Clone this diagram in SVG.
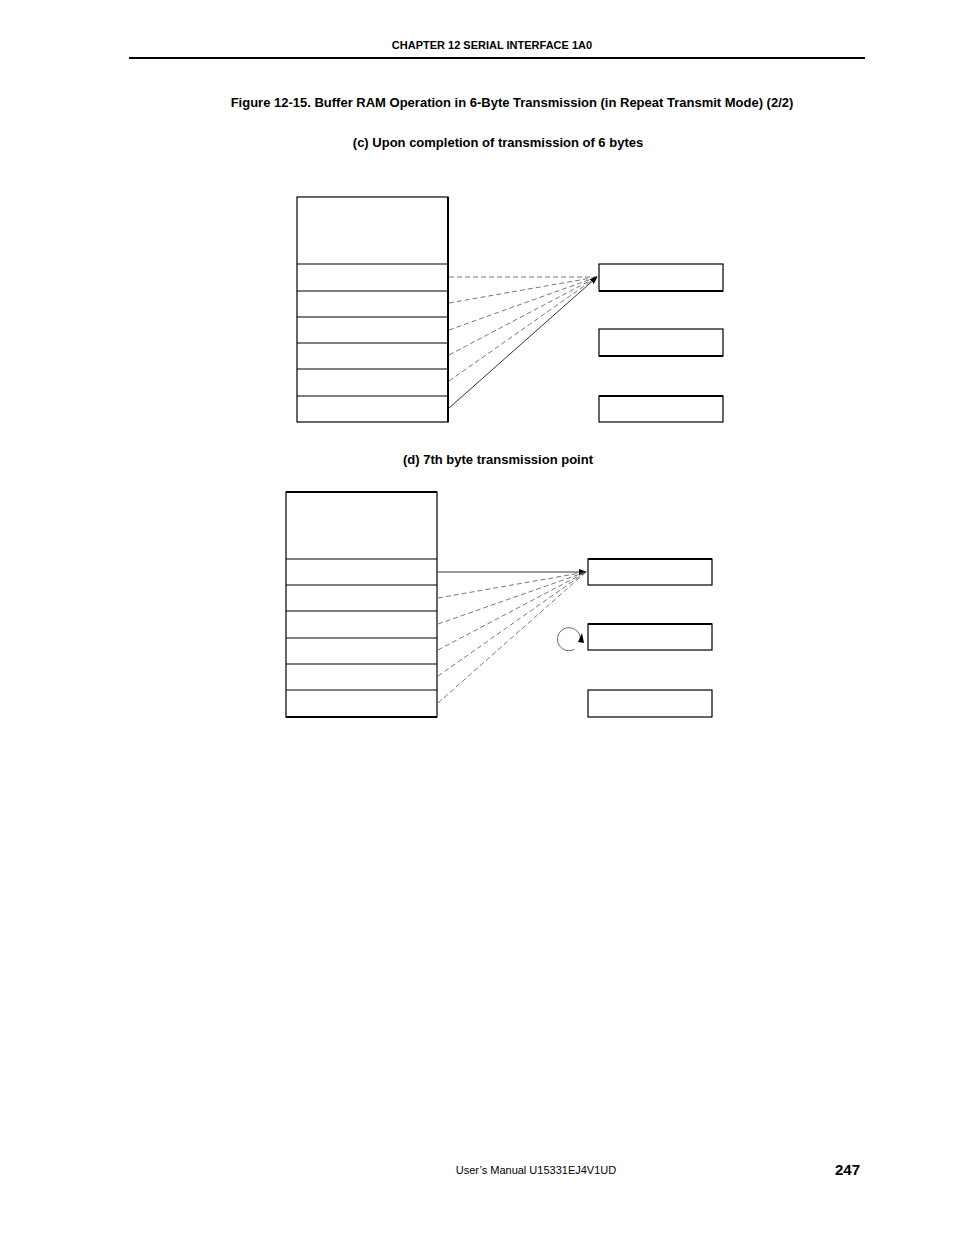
<svg xmlns="http://www.w3.org/2000/svg" width="954" height="1235" viewBox="0 0 954 1235">
<style>
.t{font-family:"Liberation Sans",Arial,sans-serif;font-weight:bold;fill:#000}
.b{fill:none;stroke:#000;stroke-width:1.2}
.d{fill:none;stroke:#555;stroke-width:0.8;stroke-dasharray:5,3}
.s{fill:none;stroke:#000;stroke-width:0.8}
</style>
<defs><marker id="a" markerWidth="8" markerHeight="6" refX="7" refY="3" orient="auto" markerUnits="userSpaceOnUse"><path d="M0,0L8,3L0,6z" fill="#000"/></marker></defs>
<rect width="954" height="1235" fill="#fff"/>
<text class="t" x="492" y="49" font-size="11" text-anchor="middle">CHAPTER  12   SERIAL  INTERFACE  1A0</text>
<line x1="129" y1="58" x2="865" y2="58" stroke="#000" stroke-width="2"/>
<text class="t" x="512" y="107" font-size="13" text-anchor="middle">Figure 12-15.  Buffer RAM Operation in 6-Byte Transmission (in Repeat Transmit Mode) (2/2)</text>
<text class="t" x="498" y="147" font-size="13" text-anchor="middle">(c)   Upon completion of transmission of 6 bytes</text>
<text class="t" x="498" y="464" font-size="13" text-anchor="middle">(d)   7th byte transmission point</text>
<g id="ramC">
<rect class="b" x="297" y="197" width="151" height="225"/>
<path class="b" d="M297 264H448M297 291H448M297 317H448M297 343H448M297 369H448M297 396H448"/>
<line x1="448" y1="197" x2="448" y2="422" stroke="#000" stroke-width="2"/>
</g>
<g id="regC1"><rect class="b" x="599" y="264" width="124" height="27"/><line x1="599" y1="291" x2="723" y2="291" stroke="#000" stroke-width="2"/></g>
<g id="regC2"><rect class="b" x="599" y="329" width="124" height="27"/><line x1="599" y1="356" x2="723" y2="356" stroke="#000" stroke-width="2"/></g>
<g id="regC3"><rect class="b" x="599" y="396" width="124" height="26"/><line x1="599" y1="396" x2="723" y2="396" stroke="#000" stroke-width="2"/></g>
<g id="ramD">
<rect class="b" x="286" y="492" width="151" height="225"/>
<path class="b" d="M286 559H437M286 585H437M286 611H437M286 638H437M286 664H437M286 690H437"/>
<line x1="286" y1="492" x2="437" y2="492" stroke="#000" stroke-width="2"/>
<line x1="286" y1="717" x2="437" y2="717" stroke="#000" stroke-width="2"/>
</g>
<g id="regD1"><rect class="b" x="588" y="559" width="124" height="26"/><line x1="588" y1="559" x2="712" y2="559" stroke="#000" stroke-width="2"/></g>
<g id="regD2"><rect class="b" x="588" y="624" width="124" height="26"/><line x1="588" y1="624" x2="712" y2="624" stroke="#000" stroke-width="2"/></g>
<g id="regD3"><rect class="b" x="588" y="690" width="124" height="27"/></g>
<g id="connectors">
<line class="d" x1="449" y1="277" x2="597" y2="277"/>
<line class="d" x1="449" y1="303" x2="597" y2="277"/>
<line class="d" x1="449" y1="330" x2="597" y2="277"/>
<line class="d" x1="449" y1="355" x2="597" y2="277"/>
<line class="d" x1="449" y1="381" x2="597" y2="277"/>
<line class="s" x1="449" y1="408" x2="597" y2="277" marker-end="url(#a)"/>
<line class="s" x1="438" y1="572" x2="586" y2="572" marker-end="url(#a)"/>
<line class="d" x1="438" y1="598" x2="586" y2="572"/>
<line class="d" x1="438" y1="624" x2="586" y2="572"/>
<line class="d" x1="438" y1="650" x2="586" y2="572"/>
<line class="d" x1="438" y1="676" x2="586" y2="572"/>
<line class="d" x1="438" y1="703" x2="586" y2="572"/>
<path d="M582 640A11.5 11.5 0 1 1 577 630" fill="none" stroke="#555" stroke-width="0.8" transform="rotate(60 570 638)"/>
<path d="M578 642L582 633L584 643z" fill="#000"/>
</g>
<text x="536" y="1174" font-family="Liberation Sans,Arial,sans-serif" font-size="11" text-anchor="middle">User’s Manual  U15331EJ4V1UD</text>
<text class="t" x="860" y="1175" font-size="15" text-anchor="end">247</text>
</svg>
